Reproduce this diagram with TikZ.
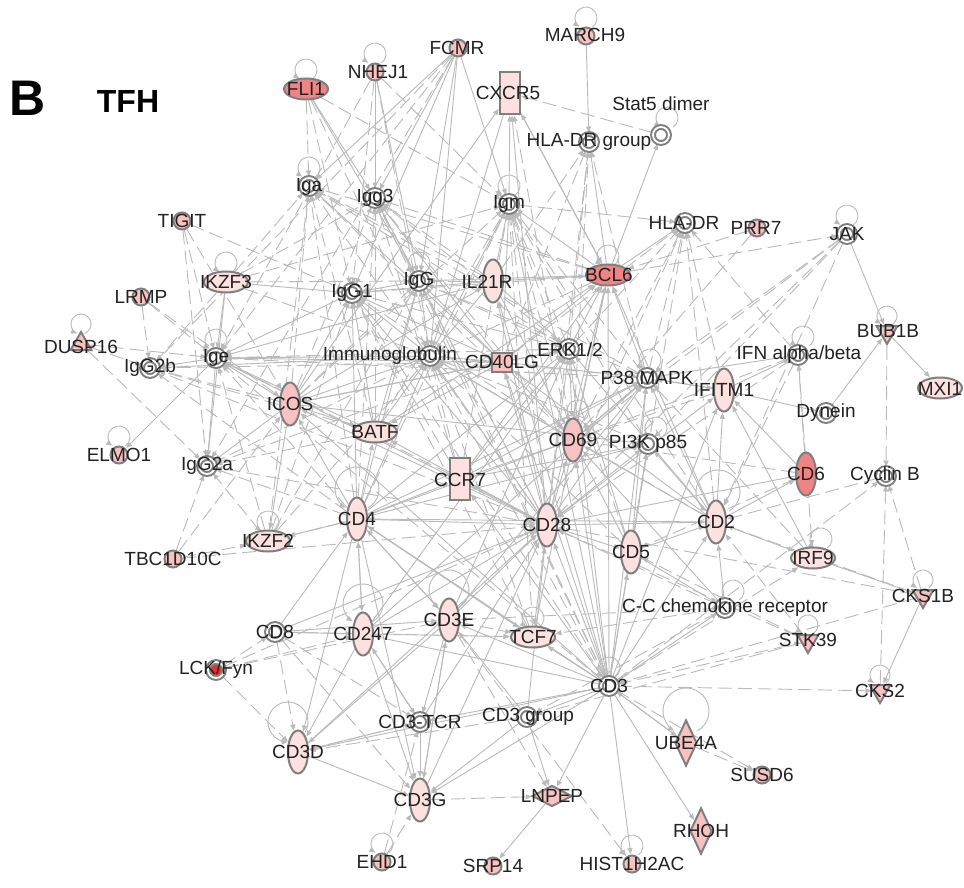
\documentclass[tikz,border=0pt]{standalone}
\usepackage{fontspec}
\setmainfont{Liberation Sans}
\usetikzlibrary{shapes.geometric,arrows.meta}
\pgfdeclarelayer{bg}
\pgfsetlayers{bg,main}
\definecolor{ecol}{HTML}{BABABA}
\definecolor{ncol}{HTML}{7F7F7F}
\definecolor{cred}{HTML}{F08484}
\definecolor{cpink}{HTML}{F8C2C2}
\definecolor{clight}{HTML}{FDE0E0}
\definecolor{clck}{HTML}{E8302A}
\definecolor{txt}{HTML}{222222}
\tikzset{
  sym/.style={draw=ncol, line width=2pt, inner sep=0pt},
  circ/.style={sym, circle, minimum size=17pt, fill=cpink},
  grp/.style={circle, minimum size=16pt, inner sep=0pt, draw=ncol, line width=2pt, double=white, double distance=1.8pt, fill=white},
  vell/.style={sym, ellipse, minimum width=20pt, minimum height=43pt},
  hell/.style={sym, ellipse, minimum width=44pt, minimum height=21pt},
  rectbox/.style={sym, rectangle, minimum width=20pt, minimum height=42pt},
  sqbox/.style={sym, rectangle, minimum width=20pt, minimum height=19pt},
  diam/.style={sym, diamond, minimum width=22pt, minimum height=46pt},
  hdiam/.style={sym, diamond, minimum width=40pt, minimum height=21pt},
  tdown/.style={sym, regular polygon, regular polygon sides=3, shape border rotate=180, minimum size=24pt},
  tup/.style={sym, regular polygon, regular polygon sides=3, minimum size=24pt},
  lab/.style={font=\fontsize{19}{20}\selectfont, text=txt, inner sep=0pt},
  e/.style={draw=ecol, line width=0.9pt, -{Triangle[length=6pt,width=5pt]}, shorten >=0.5pt},
  de/.style={e, dash pattern=on 14pt off 6pt},
}
\newcommand{\nd}[5]{\node[#2] (#1) at (#3) {}; \node[lab] (L#1) at (#4) {#5};}
\newcommand{\selfl}[5]{\draw[e] (#1.center) ++(#2) ++(#4:#3) arc[start angle=#4, delta angle=#5, radius=#3];}
\begin{document}
\begin{tikzpicture}[x=1pt,y=-1pt]
\begin{pgfonlayer}{bg}
\fill[white] (0,0) rectangle (964,888);
\end{pgfonlayer}
\useasboundingbox (0,0) rectangle (964,888);
\node[font=\bfseries\fontsize{50}{50}\selectfont, inner sep=0pt] (B) at (28,98) {B};
\node[font=\bfseries\fontsize{32}{32}\selectfont, inner sep=0pt] (TFH) at (128,101) {TFH};

\nd{FLI1}{hell,fill=cred}{306,89}{306,89}{FLI1}
\nd{NHEJ1}{circ}{375,72}{378,72}{NHEJ1}
\nd{FCMR}{circ}{458,48}{457,48}{FCMR}
\nd{MARCH9}{circ}{586,36}{585,35}{MARCH9}
\nd{CXCR5}{rectbox,fill=clight}{510,93}{508,93}{CXCR5}
\nd{Stat5}{grp}{661,135}{661,104}{Stat5 dimer}
\nd{HLADRg}{grp}{589,142}{589,142}{HLA-DR group}
\nd{Iga}{grp}{309,186}{309,187}{Iga}
\nd{Igg3}{grp}{375,198}{375,198}{Igg3}
\nd{Igm}{grp}{509,204}{509,204}{Igm}
\nd{TIGIT}{circ}{182,221}{182,221}{TIGIT}
\nd{HLADR}{grp}{685,223}{684,223}{HLA-DR}
\nd{PRR7}{circ}{757,228}{756,228}{PRR7}
\nd{JAK}{grp}{847,234}{847,234}{JAK}
\nd{IKZF3}{hell,fill=clight}{226,282}{226,282}{IKZF3}
\nd{IgG1}{grp}{352,293}{352,293}{IgG1}
\nd{IgG}{grp}{419,281}{419,281}{IgG}
\nd{IL21R}{vell,fill=clight}{493,281}{487,282}{IL21R}
\nd{BCL6}{hell,fill=cred}{608,275}{609,275}{BCL6}
\nd{LRMP}{circ}{141,297}{141,297}{LRMP}
\nd{BUB1B}{tdown,fill=cpink}{887,332}{888,331}{BUB1B}
\nd{DUSP16}{tup,fill=cpink}{81,344}{81,347}{DUSP16}
\nd{IgG2b}{grp}{150,368}{150,368}{IgG2b}
\nd{Ige}{grp}{216,358}{216,358}{Ige}
\nd{Ig}{grp}{430,356}{390,356}{Immunoglobulin}
\nd{CD40LG}{sqbox,fill=cpink}{502,362}{502,362}{CD40LG}
\nd{ERK}{grp}{569,349}{570,350}{ERK1/2}
\nd{IFN}{grp}{798,355}{799,355}{IFN alpha/beta}
\nd{MXI1}{hell,fill=clight}{940,388}{940,389}{MXI1}
\nd{P38}{grp}{647,378}{647,378}{P38 MAPK}
\nd{IFITM1}{vell,fill=clight}{724,390}{724,390}{IFITM1}
\nd{ICOS}{vell,fill=cpink}{290,404}{290,404}{ICOS}
\nd{BATF}{hell,fill=clight}{375,432}{375,432}{BATF}
\nd{Dynein}{grp}{826,413}{826,413}{Dynein}
\nd{CD69}{vell,fill=cpink}{573,440}{573,440}{CD69}
\nd{PI3K}{grp}{648,444}{648,444}{PI3K p85}
\nd{ELMO1}{circ}{119,455}{119,455}{ELMO1}
\nd{IgG2a}{grp}{207,466}{207,466}{IgG2a}
\nd{CCR7}{rectbox,fill=clight}{460,479}{460,480}{CCR7}
\nd{CD6}{vell,fill=cred}{806,474}{806,474}{CD6}
\nd{CyclinB}{grp}{886,476}{885,476}{Cyclin B}
\nd{CD4}{vell,fill=clight}{357,519}{357,519}{CD4}
\nd{CD28}{vell,fill=clight}{547,525}{547,525}{CD28}
\nd{CD2}{vell,fill=clight}{716,522}{716,522}{CD2}
\nd{IKZF2}{hell,fill=clight}{268,541}{268,541}{IKZF2}
\nd{TBC}{circ}{173,559}{173,559}{TBC1D10C}
\nd{CD5}{vell,fill=clight}{631,552}{631,552}{CD5}
\nd{IRF9}{hell,fill=clight}{813,558}{813,558}{IRF9}
\nd{CCR}{grp}{725,608}{725,608}{C-C chemokine receptor}
\nd{CKS1B}{tdown,fill=cpink}{923,596}{923,596}{CKS1B}
\nd{CD8}{grp}{275,632}{275,632}{CD8}
\nd{CD247}{vell,fill=clight}{363,634}{363,634}{CD247}
\nd{CD3E}{vell,fill=clight}{449,620}{449,620}{CD3E}
\nd{TCF7}{hell,fill=clight}{533,637}{533,637}{TCF7}
\nd{STK39}{tdown,fill=cpink}{808,641}{808,640}{STK39}
\nd{LCK}{grp,fill=clck}{216,670}{216,670}{LCK/Fyn}
\nd{CD3}{grp}{609,686}{609,686}{CD3}
\nd{CKS2}{tdown,fill=cpink}{880,691}{880,691}{CKS2}
\nd{CD3TCR}{grp}{420,722}{420,722}{CD3-TCR}
\nd{CD3grp}{grp}{527,717}{528,717}{CD3 group}
\nd{CD3D}{vell,fill=clight}{298,752}{298,752}{CD3D}
\nd{UBE4A}{diam,fill=cpink}{686,743}{686,743}{UBE4A}
\nd{SUSD6}{circ}{762,775}{762,775}{SUSD6}
\nd{CD3G}{vell,fill=clight}{420,800}{420,800}{CD3G}
\nd{LNPEP}{hdiam,fill=cpink}{552,796}{552,796}{LNPEP}
\nd{RHOH}{diam,fill=cpink}{701,831}{701,831}{RHOH}
\nd{EHD1}{circ}{382,862}{382,862}{EHD1}
\nd{SRP14}{circ}{493,866}{493,866}{SRP14}
\nd{HIST}{circ}{632,864}{632,864}{HIST1H2AC}

\begin{pgfonlayer}{bg}
\foreach \a/\b in {FLI1/Igg3, FLI1/IgG, NHEJ1/Igg3, NHEJ1/IgG, FCMR/Iga, FCMR/Igg3, FCMR/IgG1, FCMR/IgG, FCMR/Igm, FCMR/Ig, MARCH9/HLADRg, BCL6/CXCR5, BCL6/Stat5, BCL6/HLADR, BCL6/HLADRg, IL21R/BCL6, Igm/CXCR5, ICOS/CXCR5, CD28/CXCR5, JAK/BUB1B, BUB1B/MXI1, Dynein/BUB1B, IFITM1/Dynein, IFITM1/IFN, P38/IFITM1, CD2/IFITM1, CD28/IFITM1, CD2/CD6, CD2/IRF9, IRF9/CKS1B, CKS1B/CKS2, CD28/CD2, CD5/CD2, CD28/CD5, CD5/CCR, CD28/CD69, CD28/PI3K, CD28/P38, CD28/ERK, CD28/CD40LG, CD28/CCR7, CD28/TCF7, CD28/ICOS, CD28/BCL6, CD28/IL21R, CD28/BATF, CD4/CD247, CD4/CD3E, CD4/TCF7, CD4/BATF, CD4/CD28, CD4/ICOS, CD4/CCR7, CD4/CD3D, CD4/CD3G, CD4/IKZF2, CD3/CD28, CD3/TCF7, CD3/CD3grp, CD3/LNPEP, CD3/HIST, CD3/UBE4A, CD3/RHOH, CD3/CD3E, CD3/CD5, CD3/CD2, CD3/CD69, CD3/CCR, CD3/CD247, CD3/CD3G, CD3/CD3D, CD3/CD4, CD3/P38, CD3/ERK, CD3/PI3K, CD3/CD3TCR, CD247/CD3G, CD247/CD3D, CD247/CD28, CD247/CD3TCR, CD8/CD247, CD8/CD3E, CD3TCR/CD3D, CD3TCR/CD3G, CD3TCR/CD28, CD3E/CD3D, CD3E/CD3G, CD3E/CD3TCR, CD3E/CD28, CD3D/CD3G, CD3grp/CD3G, CD3grp/LNPEP, CD3grp/CD28, LNPEP/SRP14, ICOS/Ige, ICOS/IgG2a, ICOS/Ig, ICOS/BATF, ICOS/IKZF2, ICOS/IgG1, Ige/IgG2b, Ige/IgG2a, Ige/ELMO1, IKZF3/Ige, IKZF3/IgG1, IKZF3/IgG2a, Ig/Ige, Ig/IgG1, Ig/IgG, Ig/IgG2b, CD40LG/Ig, CD40LG/Ige, CD40LG/IgG1, CD40LG/Igm, CD40LG/IgG, CD40LG/Igg3, CD40LG/Iga, IL21R/Igm, IL21R/IgG1, IL21R/Ige, BCL6/Igm, BCL6/IgG, BATF/Ige, BATF/IgG1, BATF/BCL6, ERK/CD69, P38/CD69, CD2/P38, CD2/PI3K, CD2/ERK, CCR7/ERK, CCR7/P38, CCR7/PI3K, CD6/CD28, IgG/Igg3, IgG/IgG1, Ig/Igm, CD69/P38, CD5/P38, CD5/ERK, CD40LG/ERK, CD40LG/P38, ICOS/PI3K, ICOS/ERK, IL21R/ERK,
 CD4/Ig, CD4/IgG1, CD4/IgG, CD28/Ig, CD28/IgG1, CD28/IgG, CD28/Ige, CD3/Igm, CD3/BCL6, CD3/IL21R, CD3/ICOS, CD3/CD40LG, CD3/CCR7, CD3/IFITM1, CD69/BCL6, CD69/Ig, ERK/BCL6, P38/BCL6, CD2/CD4, CD4/CD69, CD4/ERK, CD4/P38, CD4/PI3K, ICOS/IL21R, IL21R/CD69, IL21R/Ig, CD40LG/ICOS, CD40LG/CD69, CD40LG/BCL6, CD40LG/BATF, BATF/Ig, BATF/IgG, IgG1/Ige, CD5/CD69, CD5/PI3K, TCF7/CD4, TCF7/BCL6, CD247/CD4, CD247/P38, CD247/ERK, CD3E/CD4, CD3E/ERK, CD3E/P38, CD8/CD28, CD8/CD4, CD3D/CD28, CD3G/CD28, CD3G/CD3E, CD3grp/CD3E, CD3TCR/CD247, CCR7/CD69, CCR7/BCL6, CXCR5/Ig, CXCR5/BCL6, IFN/P38, IFITM1/P38, CD6/IFITM1, IRF9/IFITM1, CCR/CD2, CCR/CD69, CD2/CD69, CD2/CD40LG, CD2/BCL6, UBE4A/CD3}
  \draw[e] (\a) -- (\b);
\foreach \a/\b in {FLI1/Iga, FLI1/IgG1, NHEJ1/IgG1, NHEJ1/Igm, FCMR/Ige, TIGIT/Ige, TIGIT/ICOS, LRMP/Ige, LRMP/ICOS, DUSP16/IgG2a, DUSP16/Ige, TBC/IKZF2, TBC/ICOS, Stat5/CXCR5, Igm/HLADR, BCL6/JAK, PRR7/BCL6, PRR7/CD69, JAK/P38, JAK/CD69, BUB1B/CyclinB, CKS2/CyclinB, CKS1B/CyclinB, CD3/CKS2, CD3/STK39, CD3/SUSD6, CKS1B/CD28, STK39/CD28, CKS1B/CD3, LCK/CD247, LCK/CD3D, EHD1/CD3G, CD3E/LNPEP, IKZF3/Iga, IKZF3/Igg3, IKZF3/Ig, IKZF2/Ige, IKZF2/IgG2a, IKZF2/Iga, ICOS/Iga, ICOS/Igg3, BATF/Igg3, BATF/IgG2a, BATF/Iga, IL21R/Iga, IL21R/Igg3, IL21R/IgG, BCL6/Igg3, BCL6/IgG1, BCL6/Ig, BCL6/Iga, CD40LG/IgG2a, CD40LG/IgG2b, ERK/Igm, P38/Igm, IFN/IRF9, IFN/CD69, CCR/CD28, CD2/HLADR, IFITM1/HLADR, CD28/HLADRg, CD69/HLADRg, P38/HLADRg, CD28/Igm, CD4/Igm, CD4/Ige, CD4/Iga, CCR7/Ig, CCR7/Igm, CD69/Igm, ERK/IgG, P38/Ig, ICOS/IgG, CD3/Ig, CD8/CD3D, CD8/CD3G, TCF7/Ig, CD4/Igg3, CD28/Igg3, CD28/IgG2a, CD69/Iga, IKZF2/IgG1, Ig/IgG2a, CD5/HLADR, CD6/CD69, IRF9/P38, JAK/CD2, IFITM1/CD69, CCR/CD3E, STK39/CD3grp, CD3/CyclinB, UBE4A/SUSD6, CD3/IRF9, CD3E/HIST,
 FLI1/Ig, FLI1/Igm, NHEJ1/Ig, NHEJ1/Ige, FCMR/IgG2a, FCMR/IgG2b, TIGIT/IgG2a, TIGIT/IgG1, LRMP/IgG2b, DUSP16/IgG2b, TBC/IgG2a, TBC/CD28, IKZF3/IgG, IKZF3/IgG2b, IKZF3/Igm, IKZF2/Ig, IKZF2/IgG, IKZF2/CD4, BATF/Igm, BATF/IgG2b, ICOS/Igm, ICOS/IgG2b, CD4/IgG2a, CD4/IgG2b, CD28/Iga, CD28/IgG2b, CD69/Igg3, CD69/IgG1, ERK/Iga, ERK/Igg3, ERK/IgG1, ERK/Ige, P38/Iga, P38/IgG, P38/Ige, PI3K/Ig, PI3K/Igm, CD2/Igm, CD2/Ig, CD5/Ig, CD5/Igm, CD3/Igg3, CD3/IgG1, CD3/Ige, CD3/IgG, TCF7/Igm, TCF7/IgG1, CCR7/IgG1, CCR7/Igg3, CCR7/Ige, CD40LG/HLADRg, CD40LG/HLADR, P38/HLADR, ERK/HLADR, ERK/HLADRg, CD28/HLADR, CD69/HLADR, CD69/CXCR5, IL21R/HLADRg, IFN/HLADR, IFN/CD2, IFN/CD28, JAK/CD28, JAK/PI3K, CyclinB/CD2, CKS1B/CD2, STK39/CD2, STK39/CD5, CCR/CD3grp, CCR/TCF7, CD6/CD5, CD6/IFN, LCK/CD8, LCK/CD3E, LCK/CD28, CD8/TCF7, CD8/CD3TCR, EHD1/CD3TCR, CD3grp/CD3D, CD247/TCF7, CD3E/TCF7, CD3G/LNPEP, CD3D/CD3TCR}
  \draw[de] (\a) -- (\b);
% self loops
\selfl{FLI1}{0,-19}{11}{55}{-290}
\selfl{NHEJ1}{0,-18}{11}{55}{-290}
\selfl{MARCH9}{0,-18}{11}{55}{-290}
\selfl{Stat5}{6,-17}{11}{55}{-290}
\selfl{Iga}{0,-18}{11}{55}{-290}
\selfl{Igm}{0,-18}{11}{55}{-290}
\selfl{JAK}{0,-18}{11}{55}{-290}
\selfl{IKZF3}{0,-19}{11}{55}{-290}
\selfl{IgG}{0,-18}{11}{55}{-290}
\selfl{BCL6}{0,-19}{11}{55}{-290}
\selfl{BUB1B}{0,-16}{10}{55}{-290}
\selfl{DUSP16}{0,-20}{10}{70}{-320}
\selfl{Ige}{0,-18}{11}{55}{-290}
\selfl{IFN}{5,-18}{11}{55}{-290}
\selfl{ELMO1}{0,-18}{11}{55}{-290}
\selfl{IKZF2}{0,-19}{11}{55}{-290}
\selfl{IRF9}{8,-19}{11}{55}{-290}
\selfl{CCR}{8,-17}{11}{55}{-290}
\selfl{CKS1B}{0,-16}{10}{55}{-290}
\selfl{CD247}{0,-30}{20}{60}{-300}
\selfl{CD3E}{0,-30}{20}{60}{-300}
\selfl{TCF7}{0,-19}{11}{55}{-290}
\selfl{STK39}{0,-16}{10}{55}{-290}
\selfl{CD3}{0,-18}{11}{55}{-290}
\selfl{CKS2}{0,-16}{10}{55}{-290}
\selfl{EHD1}{0,-18}{11}{55}{-290}
\selfl{HIST}{0,-18}{11}{55}{-290}
\selfl{P38}{3,-18}{11}{55}{-290}
\selfl{CD69}{5,-29}{11}{55}{-290}
\selfl{PI3K}{8,-16}{11}{55}{-290}
\selfl{UBE4A}{0,-32}{23}{60}{-300}
\selfl{CD3D}{-10,-30}{20}{30}{-300}
\selfl{CD4}{0,-30}{22}{60}{-300}
\selfl{CD2}{2,-30}{22}{60}{-300}
\end{pgfonlayer}
\end{tikzpicture}
\end{document}
